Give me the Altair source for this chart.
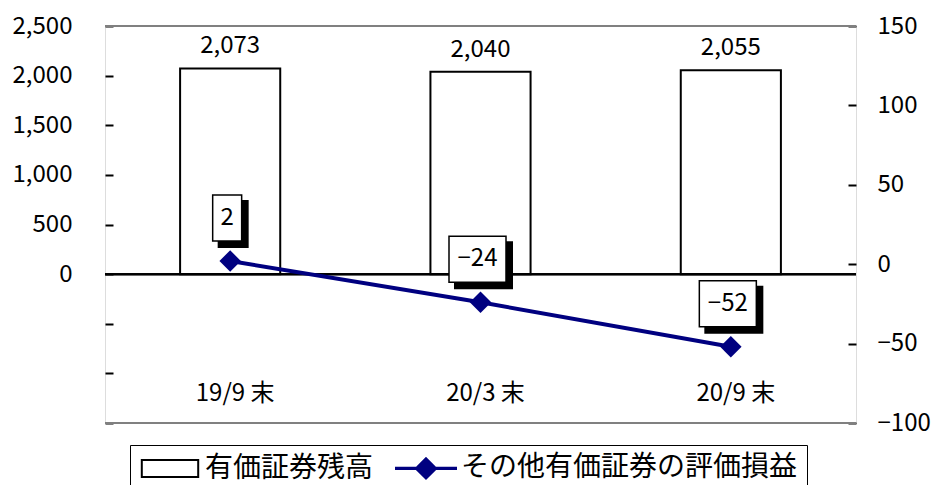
import altair as alt
import pandas as pd

# ---- data ----
categories = ["19/9 末", "20/3 末", "20/9 末"]
balance = [2073, 2040, 2055]          # 有価証券残高 (left axis)
valuation = [2, -24, -52]             # その他有価証券の評価損益 (right axis)
series = ["有価証券残高", "その他有価証券の評価損益"]
left_ticks = [-1500, -1000, -500, 0, 500, 1000, 1500, 2000, 2500]
right_ticks = [-100, -50, 0, 50, 100, 150]

FONT = "Noto Sans CJK JP"
NAVY = "#000080"
W, H = 751, 397

df = pd.DataFrame({
    "cat": categories,
    "bal": balance,
    "val": valuation,
    "lab": [str(v) for v in valuation],
})
df["w"] = ["n" if len(s) <= 1 else "w" for s in df["lab"]]

xenc = alt.X(
    "cat:N", sort=categories,
    scale=alt.Scale(paddingInner=0, paddingOuter=0),
    axis=alt.Axis(title=None, domain=False, ticks=False, labelAngle=0,
                  labelPadding=-42, labelFontSize=24, labelOffset=5,
                  labelColor="black", labelFont=FONT, grid=False),
)

yleft = alt.Y(
    "bal:Q",
    scale=alt.Scale(domain=[-1500, 2500], nice=False, zero=False),
    axis=alt.Axis(title=None, values=left_ticks, orient="left",
                  labelExpr="datum.value >= 0 ? format(datum.value, ',') : ''",
                  tickSize=8, offset=-8, domain=False, grid=False,
                  tickColor="black", tickWidth=2, labelPadding=33,
                  labelFontSize=24, labelColor="black", labelFont=FONT),
)

yright = alt.Y(
    "val:Q",
    scale=alt.Scale(domain=[-100, 150], nice=False, zero=False),
    axis=alt.Axis(title=None, values=right_ticks, orient="right",
                  format="d", tickSize=8, offset=-8, domain=False, grid=False,
                  tickColor="black", tickWidth=2, labelPadding=21,
                  labelFontSize=24, labelColor="black", labelFont=FONT),
)

base = alt.Chart(df)

bars = base.mark_bar(width=alt.RelativeBandSize(0.4), fill="white",
                     stroke="black", strokeWidth=2).encode(x=xenc, y=yleft)
bar_text = base.mark_text(baseline="alphabetic", dy=-15, fontSize=24,
                          font=FONT, color="black").encode(
    x=xenc, y=yleft, text=alt.Text("bal:Q", format=","))
zero_rule = base.mark_rule(color="black", strokeWidth=2).encode(y=alt.datum(0))

left = alt.layer(bars, zero_rule, bar_text)

line = base.mark_line(color=NAVY, strokeWidth=4).encode(x=xenc, y=yright)
pts = base.mark_point(shape="diamond", filled=True, color=NAVY, size=460,
                      opacity=1).encode(x=xenc, y=yright)

narrow = "M-0.483,-0.767L0.483,-0.767L0.483,0.767L-0.483,0.767Z"
wide = "M-0.95,-0.767L0.95,-0.767L0.95,0.767L-0.95,0.767Z"
box_shape = alt.Shape("w:N", scale=alt.Scale(domain=["n", "w"], range=[narrow, wide]),
                      legend=None)
shadow = base.mark_point(filled=True, fill="black", stroke="black", size=3600,
                         opacity=1, xOffset=3, yOffset=-37).encode(
    x=xenc, y=yright, shape=box_shape)
box = base.mark_point(filled=True, fill="white", stroke="black", strokeWidth=1.5,
                      size=3600, opacity=1, xOffset=-3, yOffset=-43).encode(
    x=xenc, y=yright, shape=box_shape)
box_text = base.mark_text(fontSize=24, font=FONT, color="black", dx=-3, dy=-43,
                          baseline="middle").encode(
    x=xenc, y=yright, text=alt.Text("val:Q", format="d"))

right = alt.layer(line, pts, shadow, box, box_text)

# legend (built from an invisible layer)
rect_sym = "M-2.35,-0.7L2.35,-0.7L2.35,0.7L-2.35,0.7Z"
line_sym = "M-2.5,-0.05L2.5,-0.05L2.5,0.05L-2.5,0.05Z M0,-0.85L0.85,0L0,0.85L-0.85,0Z"
sym_expr = f"datum.value === '{series[0]}' ? '{rect_sym}' : '{line_sym}'"
stroke_expr = f"datum.value === '{series[0]}' ? 'black' : '{NAVY}'"
leg = alt.Legend(title=None, orient="none", legendX=25, legendY=419,
                 direction="horizontal", strokeColor="black", padding=9,
                 symbolSize=576, symbolStrokeWidth=2, symbolOpacity=1,
                 symbolType=alt.ExprRef(expr=sym_expr),
                 symbolStrokeColor=alt.ExprRef(expr=stroke_expr),
                 symbolOffset=17,
                 labelFontSize=28, labelFont=FONT, labelColor="black",
                 labelOffset=21, columnPadding=18, labelLimit=600)
leg_df = pd.DataFrame({"series": series})
legend_layer = alt.Chart(leg_df).mark_point(opacity=0, filled=True).encode(
    fill=alt.Fill("series:N", sort=series,
                  scale=alt.Scale(domain=series, range=["white", NAVY]), legend=leg),
)

border_top = alt.Chart(leg_df).mark_rule(color="#808080", strokeWidth=2).encode(
    y=alt.value(0))
border_bot = alt.Chart(leg_df).mark_rule(color="#808080", strokeWidth=2).encode(
    y=alt.value(H))

chart = alt.layer(left, right, legend_layer, border_top, border_bot).resolve_scale(
    y="independent"
).properties(
    width=W, height=H,
    autosize=alt.AutoSizeParams(type="none"),
    padding={"left": 105, "top": 26, "right": 80, "bottom": 62},
    background="white",
).configure_view(
    stroke="black", strokeWidth=2
).configure(font=FONT)

chart.save("out.html", embed_options={"renderer": "svg", "actions": False})
